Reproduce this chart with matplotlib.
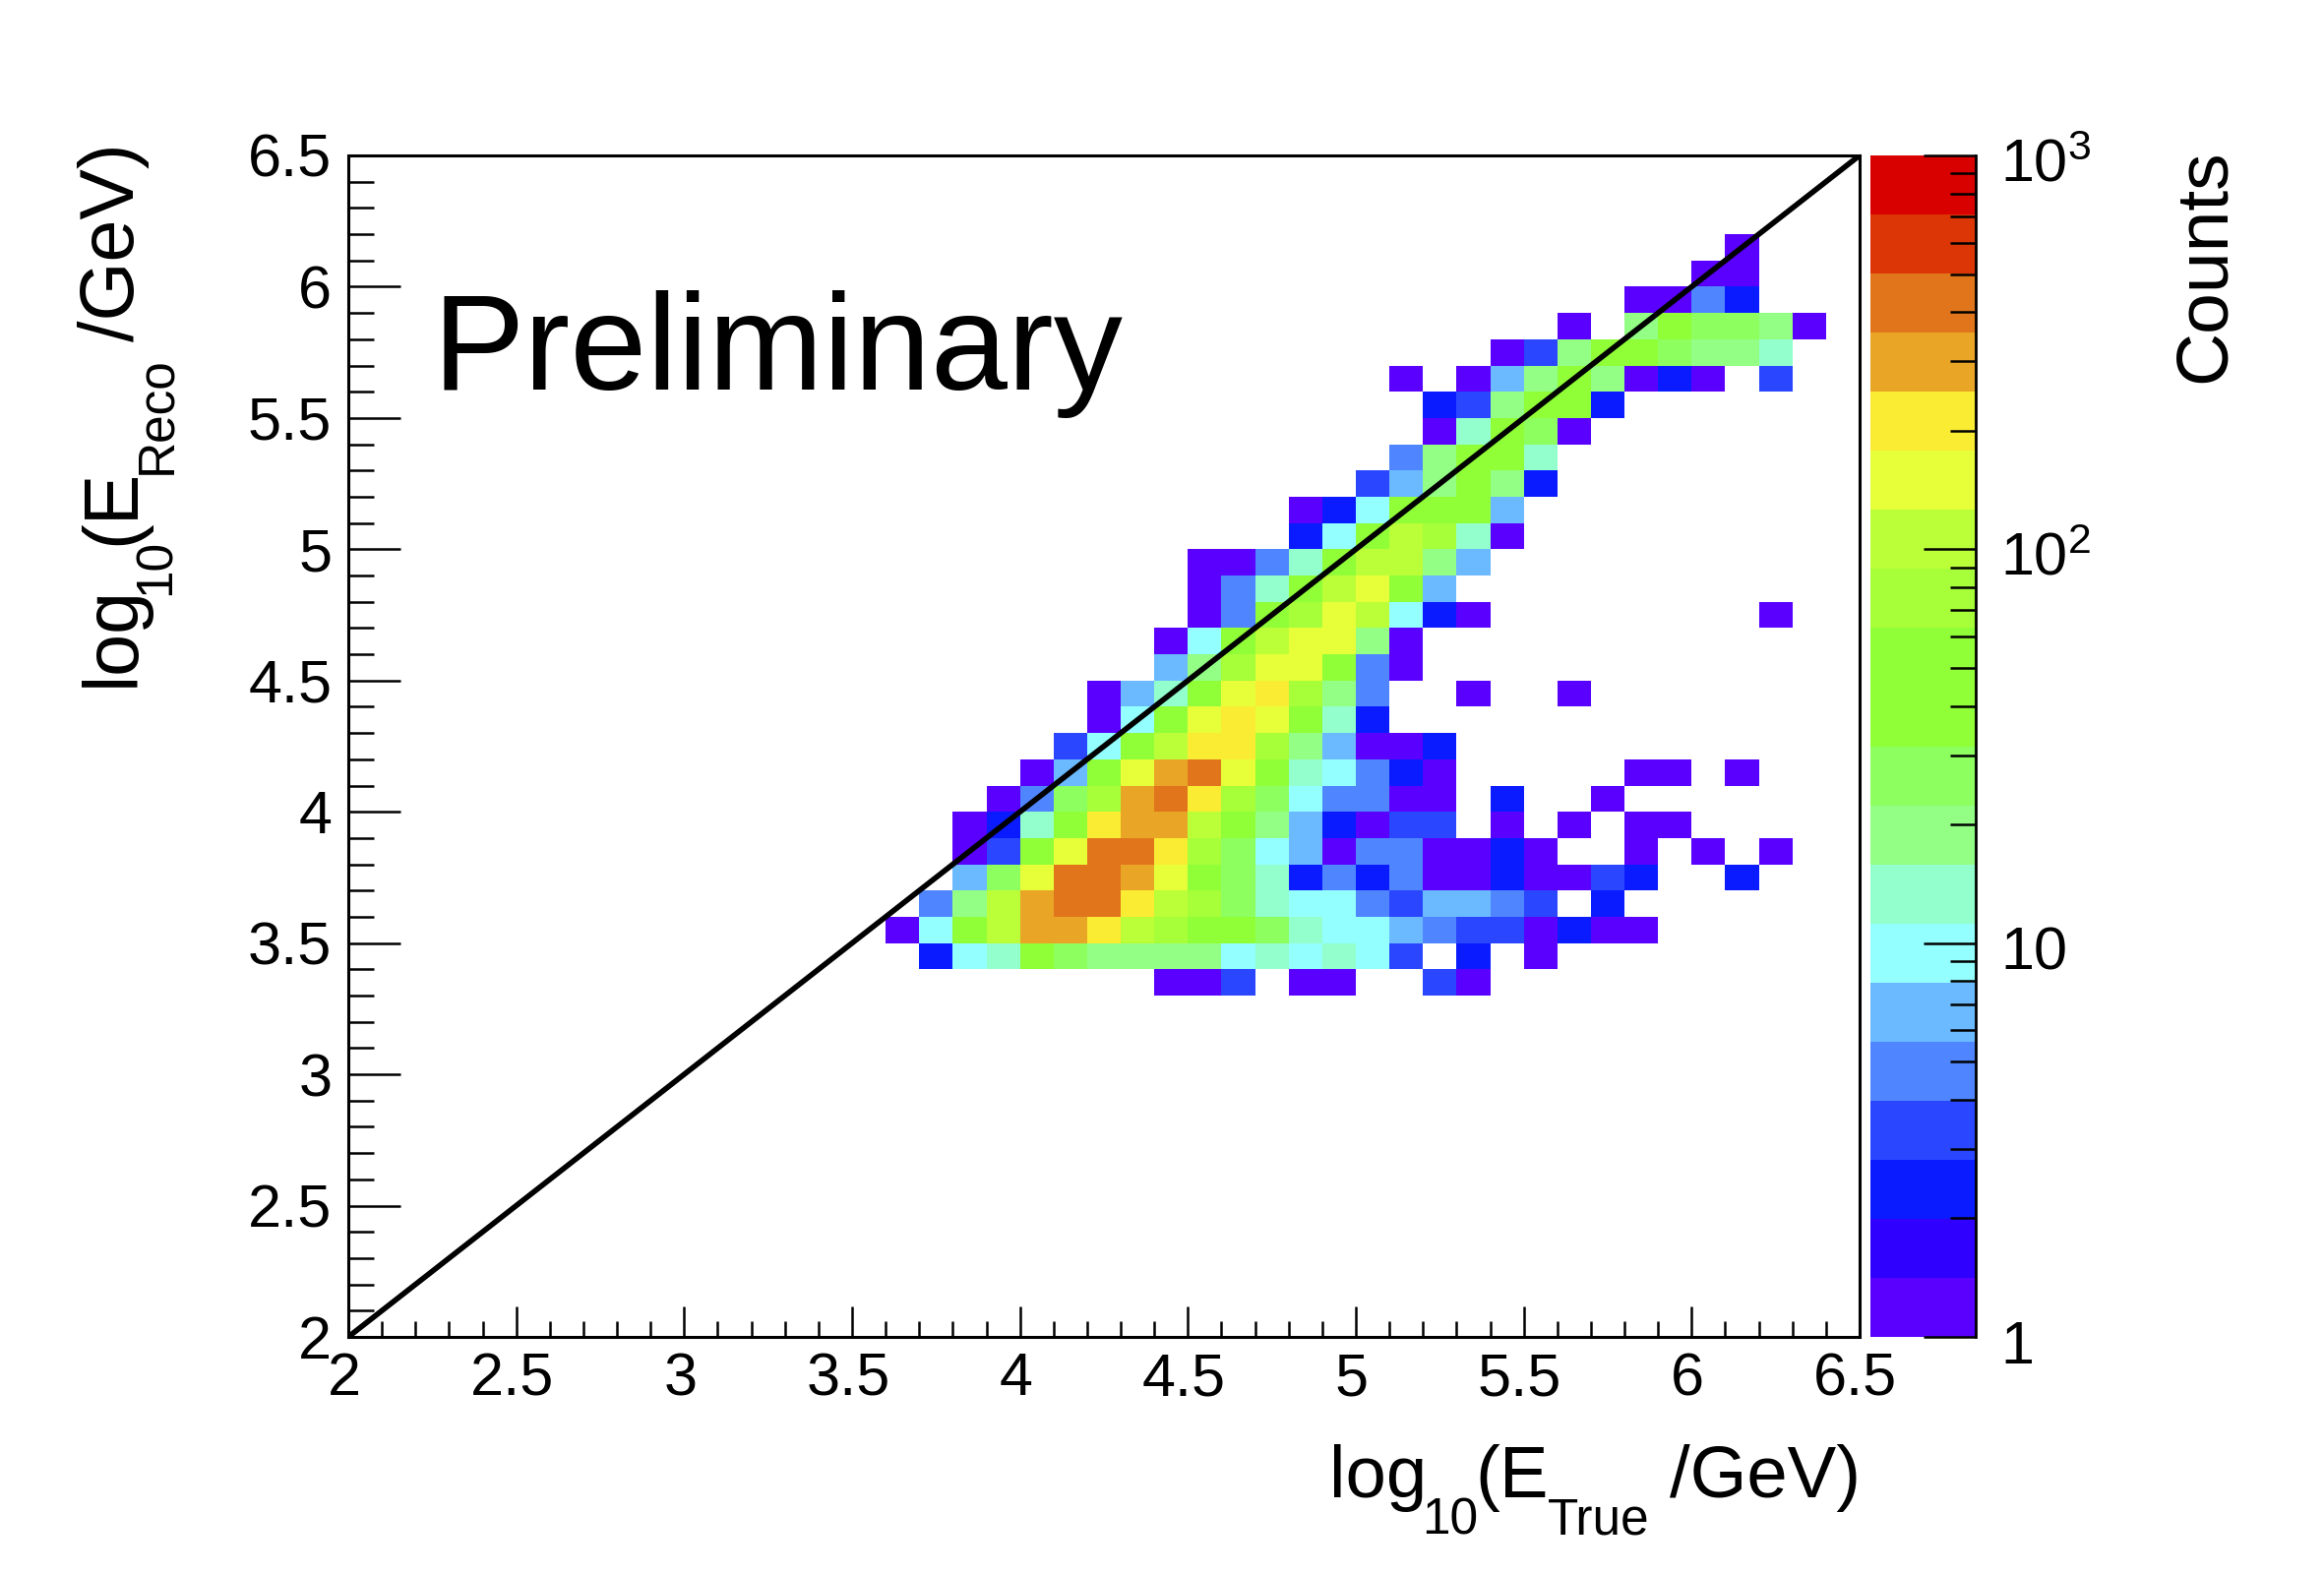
import numpy as np
import matplotlib
matplotlib.use("Agg")
import matplotlib.pyplot as plt
from matplotlib.colors import ListedColormap, LogNorm
from matplotlib.ticker import FormatStrFormatter, LogLocator, MultipleLocator, NullFormatter
from matplotlib.transforms import ScaledTranslation

W, H = 2362, 1600

plt.rcParams["font.family"] = ["Liberation Sans", "DejaVu Sans"]
plt.rcParams["mathtext.fontset"] = "custom"
plt.rcParams["mathtext.rm"] = "Liberation Sans"
plt.rcParams["mathtext.default"] = "regular"

# histogram binning, 0.1 wide in both directions
bin_edges = np.linspace(2, 6.5, 46)

# reco energy of each row (lower bin edge)
reco_low = [3.3, 3.4, 3.5, 3.6, 3.7, 3.8, 3.9, 4.0, 4.1, 4.2, 4.3, 4.4, 4.5, 4.6, 4.7,
            4.8, 4.9, 5.0, 5.1, 5.2, 5.3, 5.4, 5.5, 5.6, 5.7, 5.8, 5.9, 6.0, 6.1]
# true energy where each row starts (lower bin edge)
true_start = [4.4, 3.7, 3.6, 3.7, 3.8, 3.8, 3.8, 3.9, 4.0, 4.1, 4.2, 4.2, 4.4, 4.4, 4.5,
              4.5, 4.5, 4.8, 4.8, 5.0, 5.1, 5.2, 5.2, 5.1, 5.4, 5.6, 5.8, 6.0, 6.1]
# counts
row_counts = [
    [1, 1, 3, 0, 1, 1, 0, 0, 3, 1],
    [2, 9, 13, 36, 26, 18, 18, 18, 18, 9, 13, 9, 13, 9, 3, 0, 2, 0, 1],
    [1, 9, 36, 105, 290, 290, 205, 105, 72, 36, 36, 26, 13, 9, 9, 6, 5, 3, 3, 1, 2, 1, 1],
    [5, 18, 105, 290, 410, 410, 205, 105, 72, 26, 13, 9, 9, 5, 3, 6, 6, 5, 3, 0, 2],
    [6, 26, 145, 410, 410, 290, 145, 36, 26, 13, 2, 5, 2, 5, 1, 1, 2, 1, 1, 3, 2, 0, 0, 2],
    [1, 3, 36, 145, 410, 410, 205, 72, 26, 9, 6, 1, 5, 5, 1, 1, 2, 1, 0, 0, 1, 0, 1, 0, 1],
    [1, 2, 13, 36, 205, 290, 290, 105, 36, 18, 6, 2, 1, 3, 3, 0, 1, 0, 1, 0, 1, 1],
    [1, 5, 26, 72, 290, 410, 205, 72, 26, 9, 5, 5, 1, 1, 0, 2, 0, 0, 1],
    [1, 6, 36, 145, 290, 410, 145, 36, 13, 9, 5, 2, 1, 0, 0, 0, 0, 0, 1, 1, 0, 1],
    [3, 9, 36, 105, 205, 205, 72, 18, 6, 1, 1, 2],
    [1, 9, 36, 145, 205, 145, 36, 13, 2],
    [1, 6, 13, 36, 145, 205, 72, 18, 5, 0, 0, 1, 0, 0, 1],
    [6, 18, 72, 145, 145, 36, 5, 1],
    [1, 9, 36, 105, 145, 145, 18, 1],
    [1, 5, 36, 72, 145, 105, 9, 2, 1, 0, 0, 0, 0, 0, 0, 0, 0, 1],
    [1, 5, 13, 36, 105, 145, 36, 6],
    [1, 1, 5, 13, 36, 105, 105, 18, 6],
    [2, 9, 36, 105, 72, 13, 1],
    [1, 2, 9, 36, 50, 36, 6],
    [3, 6, 18, 36, 18, 2],
    [5, 18, 36, 36, 13],
    [1, 13, 36, 26, 1],
    [2, 3, 18, 36, 36, 2],
    [1, 0, 1, 6, 18, 36, 18, 1, 2, 1, 0, 3],
    [1, 3, 18, 36, 36, 26, 18, 18, 13],
    [1, 0, 18, 36, 26, 26, 18, 1],
    [1, 1, 5, 2],
    [1, 1],
    [1],
]

# palette of the colour bar, bottom to top
palette = ["#5900FF", "#3000FF", "#0A1CFF", "#2A47FF", "#4F86FF", "#6BB9FF", "#93FFFF",
           "#93FFCC", "#93FF85", "#8DFF5F", "#90FF38", "#90FF38", "#A6FF38", "#BBFF38",
           "#E6FF38", "#FAEB33", "#E9A526", "#E1751C", "#DC3607", "#D90000"]

cb_ticks = [1, 10, 100, 1000]
cb_labels = ["1", "10", "$10^{2}$", "$10^{3}$"]

# fill the 2D histogram
counts = np.zeros((45, 45))
for y, x0, vals in zip(reco_low, true_start, row_counts):
    i = int(round((y - 2) * 10))
    j = int(round((x0 - 2) * 10))
    counts[i, j:j + len(vals)] = vals
counts = np.ma.masked_equal(counts, 0)

fig = plt.figure(figsize=(W / 200, H / 200), dpi=200)
ax = fig.add_axes([354 / W, 1 - 1359 / H, 1536 / W, 1201 / H])
cax = fig.add_axes([1901 / W, 1 - 1359 / H, 107 / W, 1201 / H])

mesh = ax.pcolormesh(bin_edges, bin_edges, counts, cmap=ListedColormap(palette),
                     norm=LogNorm(vmin=1, vmax=1000), antialiased=False, linewidth=0)
ax.plot([2, 6.5], [2, 6.5], color="black", lw=2.0, zorder=3)

ax.set_xlim(2, 6.5)
ax.set_ylim(2, 6.5)
ax.xaxis.set_major_locator(MultipleLocator(0.5))
ax.xaxis.set_minor_locator(MultipleLocator(0.1))
ax.yaxis.set_major_locator(MultipleLocator(0.5))
ax.yaxis.set_minor_locator(MultipleLocator(0.1))
ax.xaxis.set_major_formatter(FormatStrFormatter("%g"))
ax.yaxis.set_major_formatter(FormatStrFormatter("%g"))
ax.tick_params(axis="x", which="major", direction="in", length=11.2, width=0.9, labelsize=22, pad=5.5)
ax.tick_params(axis="x", which="minor", direction="in", length=5.8, width=0.9)
ax.tick_params(axis="y", which="major", direction="in", length=19, width=0.9, labelsize=22, pad=6)
ax.tick_params(axis="y", which="minor", direction="in", length=9.5, width=0.9)
for side in ax.spines:
    ax.spines[side].set_linewidth(1.1)


def shift_labels(labels, dx_px, dy_px):
    # nudge tick labels by a few pixels, ROOT does not centre them exactly
    off = ScaledTranslation(dx_px / 200, dy_px / 200, fig.dpi_scale_trans)
    for lab in labels:
        lab.set_transform(lab.get_transform() + off)


shift_labels(ax.get_xticklabels()[1:], -4, 0)

ax.text(2.25, 5.61, "Preliminary", fontsize=50.5, color="black", ha="left", va="baseline")

# colour bar
cbar = fig.colorbar(mesh, cax=cax)
cbar.outline.set_visible(False)
cax.spines["right"].set_visible(True)
cax.spines["right"].set_linewidth(1.0)
cax.yaxis.set_ticks(cb_ticks, labels=cb_labels)
cax.yaxis.set_minor_locator(LogLocator(base=10, subs=range(2, 10)))
cax.yaxis.set_minor_formatter(NullFormatter())
cax.tick_params(axis="y", which="major", direction="in", length=19, width=0.9, labelsize=22, pad=9)
cax.tick_params(axis="y", which="minor", direction="in", length=9.5, width=0.9)
shift_labels(cax.get_yticklabels(), 0, -4.5)

# axis titles are assembled from pieces so the subscripts sit as low as in ROOT
MAIN_FS = 26.8
SUB_FS = 18.5


def piece(x_px, y_px, s, fs, rot=0):
    fig.text(x_px / W, 1 - y_px / H, s, fontsize=fs, rotation=rot,
             rotation_mode="anchor", ha="left", va="baseline")


piece(1351, 1522, "log", MAIN_FS)
piece(1445, 1560, "10", SUB_FS)
piece(1499, 1522, "(E", MAIN_FS)
piece(1573, 1560, "True", SUB_FS)
piece(1697, 1522, "/GeV)", MAIN_FS)

piece(136, 698, "log", 27.8, 90)
piece(173, 605, "10", SUB_FS, 90)
piece(136, 554, "(E", 27.8, 90)
piece(173, 482, "Reco", SUB_FS, 90)
piece(136, 347, "/GeV)", 27.8, 90)

fig.text(2261 / W, 1 - 151 / H, "Counts", fontsize=27, rotation=90,
         rotation_mode="anchor", ha="right", va="baseline")

fig.savefig("out.png", dpi=200)
